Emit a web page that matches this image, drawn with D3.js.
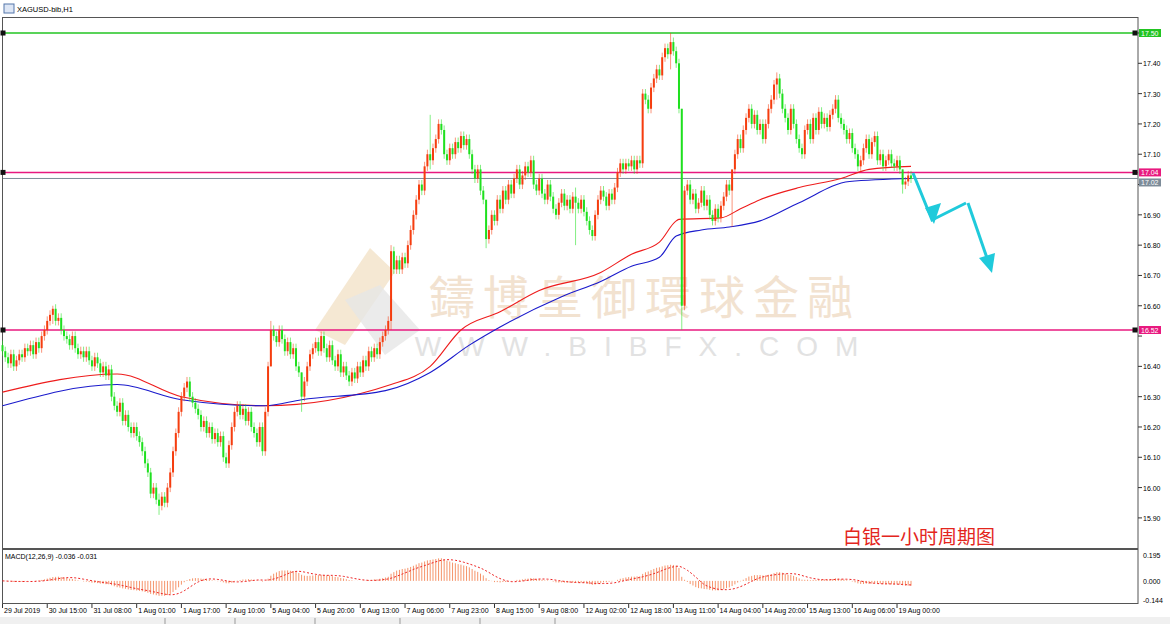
<!doctype html>
<html lang="en">
<head>
<meta charset="utf-8">
<title>XAGUSD H1</title>
<script src="https://cdn.jsdelivr.net/npm/d3@7"></script>
<style>
  body { margin: 0; background: #fff; }
  svg { display: block; font-family: "Liberation Sans", Arial, sans-serif; }
</style>
</head>
<body>
<script>
// hourly closes, XAGUSD, 29 Jul - 19 Aug 2019
var closes = [
  16.45,16.43,16.41,16.44,16.40,16.42,16.44,16.43,16.46,16.45,16.47,16.44,16.48,16.46,16.50,16.52,
  16.55,16.57,16.59,16.55,16.56,16.52,16.50,16.49,16.47,16.50,16.46,16.44,16.45,16.43,16.45,16.42,
  16.40,16.43,16.41,16.38,16.40,16.37,16.39,16.30,16.27,16.25,16.28,16.22,16.24,16.20,16.18,16.20,
  16.17,16.15,16.12,16.08,16.05,15.98,16.00,15.96,15.94,15.97,15.95,16.00,16.05,16.12,16.18,16.25,
  16.30,16.33,16.35,16.30,16.28,16.26,16.24,16.20,16.22,16.18,16.20,16.16,16.18,16.15,16.17,16.10,
  16.08,16.14,16.20,16.25,16.27,16.24,16.26,16.22,16.25,16.20,16.18,16.15,16.20,16.12,16.25,16.40,
  16.52,16.50,16.48,16.52,16.49,16.45,16.48,16.44,16.46,16.40,16.38,16.30,16.35,16.40,16.44,16.46,
  16.48,16.45,16.50,16.46,16.43,16.47,16.42,16.40,16.44,16.38,16.40,16.37,16.35,16.38,16.36,16.40,
  16.38,16.42,16.40,16.45,16.43,16.46,16.44,16.48,16.50,16.52,16.55,16.78,16.72,16.75,16.72,16.76,
  16.74,16.80,16.85,16.90,16.95,17.00,16.98,17.06,17.10,17.08,17.12,17.15,17.20,17.18,17.10,17.08,
  17.12,17.10,17.14,17.12,17.16,17.13,17.15,17.10,17.05,17.02,17.05,16.98,16.95,16.82,16.85,16.90,
  16.88,16.95,16.92,16.98,16.95,17.00,16.97,17.02,17.05,17.00,17.03,17.06,17.04,17.08,17.00,16.98,
  17.02,16.97,16.95,17.00,16.96,16.92,16.90,16.94,16.97,16.93,16.95,16.92,16.96,16.94,16.92,16.95,
  16.91,16.88,16.85,16.83,16.90,16.95,16.98,16.96,16.93,16.97,16.95,16.99,17.04,17.07,17.05,17.07,
  17.06,17.08,17.05,17.08,17.07,17.30,17.28,17.25,17.32,17.35,17.38,17.36,17.42,17.45,17.43,17.47,
  17.44,17.40,17.25,16.60,16.98,17.00,16.95,16.97,16.92,16.94,16.98,16.93,16.95,16.90,16.88,16.92,
  16.89,16.93,16.96,17.00,16.98,17.05,17.10,17.15,17.12,17.18,17.22,17.25,17.20,17.23,17.18,17.20,
  17.15,17.20,17.25,17.28,17.33,17.35,17.30,17.25,17.22,17.18,17.25,17.20,17.15,17.12,17.10,17.18,
  17.20,17.15,17.22,17.18,17.24,17.20,17.22,17.19,17.23,17.25,17.28,17.22,17.20,17.18,17.15,17.17,
  17.12,17.10,17.06,17.08,17.12,17.15,17.10,17.14,17.16,17.08,17.10,17.06,17.08,17.10,17.07,17.06,
  17.08,17.05,17.00,17.01,17.03,17.02
];
// long wicks [bar, high, low]
var wicks = [[18,16.60,16.54],[56,15.98,15.91],[96,16.55,16.40],[107,16.38,16.25],
  [139,16.80,16.52],[153,17.23,17.05],[173,16.90,16.79],[205,16.99,16.80],[239,17.50,17.38],
  [243,17.25,16.52],[261,17.00,16.86],[277,17.37,17.28],[322,17.05,16.97]];
// moving averages [bar, value]
var maRed = [[0,16.315],[41,16.375],[64,16.30],[94,16.27],[139,16.34],[153,16.40],[164,16.52],
  [178,16.58],[192,16.65],[214,16.71],[225,16.77],[235,16.81],[241,16.88],[242,16.885],[257,16.89],
  [264,16.92],[271,16.95],[285,16.99],[300,17.02],[310,17.05],[325,17.06]];
var maBlue = [[0,16.27],[41,16.34],[64,16.29],[94,16.27],[107,16.29],[137,16.32],[153,16.38],
  [167,16.47],[178,16.53],[200,16.63],[214,16.68],[225,16.73],[235,16.76],[241,16.83],[250,16.85],
  [260,16.86],[271,16.88],[285,16.94],[303,17.01],[325,17.02]];
var timeLabels = ["29 Jul 2019","30 Jul 15:00","31 Jul 08:00","1 Aug 01:00","1 Aug 17:00",
  "2 Aug 10:00","5 Aug 04:00","5 Aug 20:00","6 Aug 13:00","7 Aug 06:00","7 Aug 23:00",
  "8 Aug 15:00","9 Aug 08:00","12 Aug 02:00","12 Aug 18:00","13 Aug 11:00","14 Aug 04:00",
  "14 Aug 20:00","15 Aug 13:00","16 Aug 06:00","19 Aug 00:00"];
var priceTicks = d3.range(15.9, 17.55, 0.1);
var levels = [
  {v: 17.50, c: "#22c422", label: "17.50"},
  {v: 17.04, c: "#e8197f", label: "17.04"},
  {v: 17.02, c: "#7d8c99", label: "17.02"},
  {v: 16.52, c: "#e8197f", label: "16.52"}
];
var macdTicks = [0.195, 0.000, -0.144];

var W = 1170, H = 624, right = 1138;
var svg = d3.select("body").append("svg").attr("width", W).attr("height", H);

var x = d3.scaleLinear().domain([0, 325]).range([2.5, 911]);
var y = d3.scaleLinear().domain([16.52, 17.50]).range([330, 33]);

// frame
svg.append("rect").attr("x", 2.5).attr("y", 17.5).attr("width", right - 2.5).attr("height", 531)
   .attr("fill", "none").attr("stroke", "#555");
svg.append("rect").attr("x", 2.5).attr("y", 549.5).attr("width", right - 2.5).attr("height", 54)
   .attr("fill", "none").attr("stroke", "#555");
svg.append("rect").attr("x", 0).attr("y", 617).attr("width", W).attr("height", 7).attr("fill", "#f0f0f0");
[165, 235, 315, 400, 480, 555].forEach(function(px) {
  svg.append("line").attr("x1", px).attr("x2", px).attr("y1", 618).attr("y2", 624).attr("stroke", "#999");
});

// title
svg.append("rect").attr("x", 4).attr("y", 4).attr("width", 10).attr("height", 9)
   .attr("fill", "#dde6f5").attr("stroke", "#5577aa");
svg.append("text").attr("x", 17).attr("y", 12).attr("font-size", 7.5).text("XAGUSD-bib,H1");

// watermark
var wm = svg.append("g");
wm.append("polygon").attr("points", "315,330 370,248 395,272 345,345").attr("fill", "#f3e2c8").attr("opacity", 0.8);
wm.append("polygon").attr("points", "345,300 380,285 420,330 385,355").attr("fill", "#e6e6e6").attr("opacity", 0.8);
wm.append("text").attr("x", 645).attr("y", 314).attr("text-anchor", "middle").attr("font-size", 46)
   .attr("font-family", "Noto Sans CJK TC").attr("fill", "#f2e2d0").attr("letter-spacing", 8).text("鑄博皇御環球金融");
wm.append("text").attr("x", 645).attr("y", 356).attr("text-anchor", "middle").attr("font-size", 28)
   .attr("fill", "#e2e2e2").attr("letter-spacing", 17).text("WWW.BIBFX.COM");

// level lines
levels.forEach(function(l) {
  svg.append("line").attr("x1", 3).attr("x2", right).attr("y1", y(l.v)).attr("y2", y(l.v))
     .attr("stroke", l.c).attr("stroke-width", l.c == "#7d8c99" ? 1 : 1.5);
});
levels.filter(function(l) { return l.c != "#7d8c99"; }).forEach(function(l) {
  [3, right - 3].forEach(function(px) {
    svg.append("rect").attr("x", px - 2.5).attr("y", y(l.v) - 2.5).attr("width", 5).attr("height", 5).attr("fill", "#111");
  });
});

// moving averages
var maLine = d3.line().x(function(d) { return x(d[0]); }).y(function(d) { return y(d[1]); }).curve(d3.curveMonotoneX);
svg.append("path").datum(maRed).attr("d", maLine).attr("fill", "none").attr("stroke", "#ee1c1c").attr("stroke-width", 1.1);
svg.append("path").datum(maBlue).attr("d", maLine).attr("fill", "none").attr("stroke", "#1a1acc").attr("stroke-width", 1.1);

// candles
var wickMap = {};
wicks.forEach(function(w) { wickMap[w[0]] = w; });
var candles = closes.map(function(c, i) {
  var o = i ? closes[i - 1] : c + 0.02;
  var w = wickMap[i];
  return {i: i, o: o, c: c,
    h: w ? w[1] : Math.max(o, c) + 0.015,
    l: w ? w[2] : Math.min(o, c) - 0.015};
});
var cg = svg.append("g");
candles.forEach(function(d) {
  var col = d.c >= d.o ? "#f53d0f" : "#1fe01f";
  var cx = x(d.i);
  cg.append("line").attr("x1", cx).attr("x2", cx).attr("y1", y(d.h)).attr("y2", y(d.l))
    .attr("stroke", col).attr("stroke-opacity", 0.55);
  var top = y(Math.max(d.o, d.c)), bot = y(Math.min(d.o, d.c));
  cg.append("rect").attr("x", cx - 1).attr("y", top).attr("width", 2).attr("height", Math.max(1, bot - top))
    .attr("fill", col);
});

// price axis
priceTicks.forEach(function(v) {
  var near = levels.some(function(l) { return Math.abs(l.v - v) < 0.035; });
  svg.append("line").attr("x1", right).attr("x2", right + 4).attr("y1", y(v)).attr("y2", y(v)).attr("stroke", "#333");
  if (!near) svg.append("text").attr("x", right + 5).attr("y", y(v) + 3).attr("font-size", 7).text(v.toFixed(2));
});
levels.forEach(function(l) {
  var yy = y(l.v) + (l.c == "#7d8c99" ? 4 : 0);
  svg.append("rect").attr("x", right + 1).attr("y", yy - 4).attr("width", 22).attr("height", 8).attr("fill", l.c);
  svg.append("text").attr("x", right + 3).attr("y", yy + 2.5).attr("font-size", 7).attr("fill", "#fff").text(l.label);
});

// arrows
var arrowCol = "#1fcadb";
svg.append("polyline").attr("points", "913,173 932,220 966,203").attr("fill", "none")
   .attr("stroke", arrowCol).attr("stroke-width", 3);
svg.append("polygon").attr("points", "925,208 941,203 934,224").attr("fill", arrowCol);
svg.append("line").attr("x1", 968).attr("y1", 203).attr("x2", 987).attr("y2", 258)
   .attr("stroke", arrowCol).attr("stroke-width", 3);
svg.append("polygon").attr("points", "979,258 995,253 992,273").attr("fill", arrowCol);

svg.append("text").attr("x", 843).attr("y", 544).attr("font-size", 19).attr("fill", "#e3261d")
   .attr("font-family", "Noto Sans CJK SC").text("白银一小时周期图");

// MACD(12,26,9) from closes
function ema(arr, n) {
  var k = 2 / (n + 1), out = [], prev = arr[0];
  arr.forEach(function(v) { prev = prev + k * (v - prev); out.push(prev); });
  return out;
}
var e12 = ema(closes, 12), e26 = ema(closes, 26);
var macd = e12.map(function(v, i) { return v - e26[i]; });
var signal = macd.map(function(v, i) { return d3.mean(macd.slice(Math.max(0, i - 8), i + 1)); });
var ym = d3.scaleLinear().domain([-0.144, 0.195]).range([600, 555]);

svg.append("g").selectAll("line").data(macd).enter().append("line")
   .attr("x1", function(d, i) { return x(i); }).attr("x2", function(d, i) { return x(i); })
   .attr("y1", ym(0)).attr("y2", function(d) { return ym(d); })
   .attr("stroke", "#f5946a").attr("stroke-width", 1);
svg.append("path").datum(signal)
   .attr("d", d3.line().x(function(d, i) { return x(i); }).y(function(d) { return ym(d); }))
   .attr("fill", "none").attr("stroke", "#ee2020").attr("stroke-dasharray", "2,2");
svg.append("text").attr("x", 5).attr("y", 559).attr("font-size", 7)
   .text("MACD(12,26,9) " + macd[325].toFixed(3) + " " + signal[325].toFixed(3));
macdTicks.forEach(function(v) {
  svg.append("text").attr("x", right + 5).attr("y", ym(v) + 3).attr("font-size", 7).text(v.toFixed(3));
});

// time axis
timeLabels.forEach(function(t, k) {
  var px = x(k * 16);
  svg.append("line").attr("x1", px).attr("x2", px).attr("y1", 604).attr("y2", 608).attr("stroke", "#333");
  svg.append("text").attr("x", px + 1.5).attr("y", 613).attr("font-size", 7).text(t);
});
</script>
</body>
</html>
